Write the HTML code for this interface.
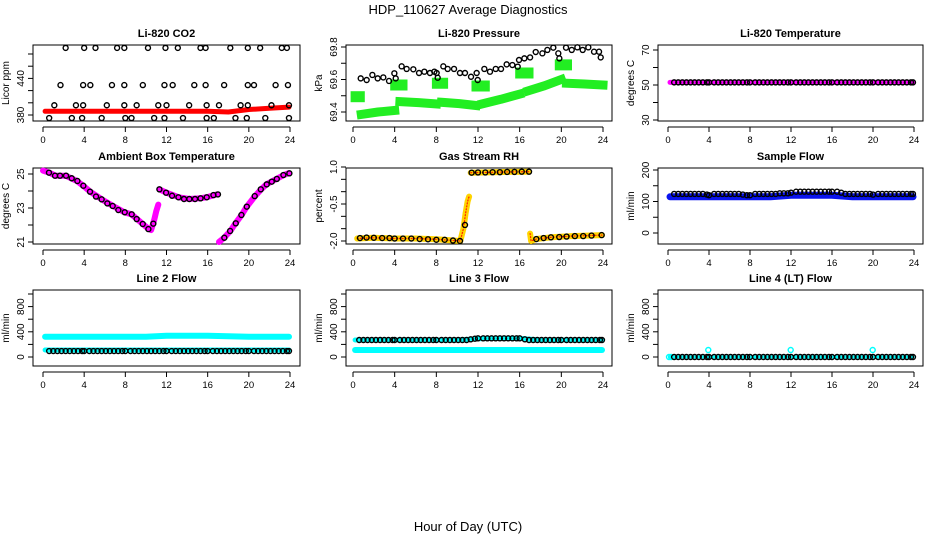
<!DOCTYPE html>
<html><head><meta charset="utf-8"><style>
body{margin:0;background:#fff}
svg{display:block;font-family:"Liberation Sans",sans-serif}
</style></head><body>
<svg id="c" width="936" height="540" viewBox="0 0 936 540">
<rect width="936" height="540" fill="#fff"/>
<text x="468" y="14" text-anchor="middle" font-size="13">HDP_110627  Average Diagnostics</text>
<text x="468" y="531" text-anchor="middle" font-size="13">Hour of Day (UTC)</text>
</svg>
<script>
// ---------- shared hours ----------
const gridHours=[0.6,1.0,1.4,1.8,2.2,2.6,3.0,3.4,3.8,4.0,4.5,4.9,5.3,5.7,6.1,6.5,6.9,7.3,7.7,8.0,8.5,8.9,9.3,9.7,10.1,10.5,10.9,11.3,11.7,12.0,12.5,12.9,13.3,13.7,14.1,14.5,14.9,15.3,15.7,16.0,16.5,16.9,17.3,17.7,18.1,18.5,18.9,19.3,19.7,20.0,20.5,20.9,21.3,21.7,22.1,22.5,22.9,23.3,23.7,23.9];
const bandHours=[0.2,2,4,6,8,10,12,14,16,18,20,22,23.9];
const xTicks=[0,4,8,12,16,20,24];
// ---------- CO2 ----------
const co2TopH=[2.2,4.0,5.1,7.2,7.9,10.2,11.9,13.1,15.3,15.8,18.2,19.9,21.1,23.2,23.7];
const co2TopV=[490,490,490,490,490,490,490,490,490,490,490,490,490,490,490];
const co2MidH=[1.7,3.9,4.6,6.7,7.9,9.7,11.8,12.6,14.7,15.8,17.6,19.9,20.5,22.6,23.8];
const co2MidV=[429,429,429,429,429,429,429,429,429,429,429,429,429,429,429];
const co2LowH=[1.1,3.2,3.9,6.2,7.9,9.1,11.2,12.0,14.2,15.9,17.1,19.2,19.9,22.2,23.9];
const co2LowV=[396,396,396,396,396,396,396,396,396,396,396,396,396,396,396];
const co2BotH=[0.6,2.8,3.8,5.7,8.0,8.6,10.8,11.8,13.6,15.9,16.6,18.7,19.8,21.6,23.9];
const co2BotV=[375,375,375,375,375,375,375,375,375,375,375,375,375,375,375];
const co2BandV=[386,386,386,386,386,386,386,386,386,385,389,391,393];
// ---------- Pressure ----------
const presH=[0.74,1.31,1.86,2.37,2.91,3.46,3.97,4.10,4.67,5.15,5.79,6.34,6.85,7.39,7.81,8.03,8.13,8.67,9.09,9.70,10.27,10.75,11.33,11.87,11.97,12.61,13.15,13.70,14.21,14.75,15.30,15.81,15.94,16.45,17.0,17.54,18.18,18.66,19.23,19.71,19.81,20.45,21.0,21.54,22.05,22.59,23.14,23.62,23.78];
const presV=[69.607,69.597,69.628,69.607,69.613,69.591,69.638,69.607,69.681,69.665,69.663,69.640,69.648,69.640,69.648,69.640,69.611,69.681,69.665,69.665,69.640,69.640,69.617,69.640,69.597,69.665,69.648,69.665,69.665,69.693,69.689,69.679,69.720,69.730,69.736,69.769,69.761,69.782,69.796,69.761,69.730,69.796,69.782,69.798,69.782,69.798,69.771,69.771,69.736];
const presGreenH=[[0.3,0.6],[0.8,2.4,4.0],[4.1,4.7],[4.5,6.3,8.0],[8.1,8.6],[8.5,10.2,11.8],[11.9,12.6],[12.4,14.2,16.0],[16.1,16.8],[16.8,18.4,20.0],[19.9,20.5],[20.5,22.2,24.0]];
const presGreenV=[[69.494,69.494],[69.385,69.400,69.410],[69.566,69.566],[69.464,69.458,69.450],[69.577,69.577],[69.460,69.452,69.440],[69.560,69.560],[69.450,69.478,69.510],[69.640,69.640],[69.530,69.562,69.600],[69.690,69.690],[69.577,69.572,69.566]];
// ---------- Li-820 temperature ----------
const tempV=gridHours.map(()=>51.5);
const tempBandV=[51.5,51.5,51.5,51.5,51.5,51.5,51.5,51.5,51.5,51.5,51.5,51.5,51.5];
// ---------- Ambient ----------
const ambH=[0.58,1.17,1.65,2.24,2.79,3.34,3.92,4.57,5.15,5.70,6.25,6.77,7.32,7.94,8.62,9.10,9.69,10.24,10.72,11.31,11.96,12.54,13.16,13.70,14.22,14.77,15.31,15.91,16.56,17.0,17.62,18.18,18.73,19.28,19.80,20.57,21.16,21.74,22.23,22.72,23.36,23.94];
const ambV=[25.08,24.9,24.9,24.9,24.75,24.59,24.31,23.96,23.67,23.51,23.27,23.12,22.88,22.75,22.63,22.35,22.06,21.76,22.08,24.1,23.9,23.72,23.63,23.53,23.53,23.53,23.57,23.63,23.76,23.8,21.25,21.65,22.1,22.59,23.08,23.7,24.1,24.39,24.55,24.71,24.94,25.04];
const ambBandH=[[0.0,0.6,1.2,2.2,3.3,3.9,4.6,5.7,6.8,7.9,8.6,9.7,10.2,10.5,10.8,11.0,11.2],[11.3,12.0,13.2,14.2,15.3,16.0,16.9],[17.1,17.6,18.2,18.7,19.3,19.8,20.6,21.2,21.7,22.2,22.7,23.4,23.9]];
const ambBandV=[[25.2,25.08,24.9,24.9,24.59,24.31,23.96,23.51,23.12,22.75,22.63,22.06,21.8,21.7,22.3,22.8,23.2],[24.1,23.9,23.63,23.53,23.57,23.65,23.8],[21.0,21.25,21.65,22.1,22.59,23.08,23.7,24.1,24.39,24.55,24.71,24.94,25.05]];
// ---------- Gas stream RH ----------
const rhH=[[0.67,1.3,2.0,2.8,3.5,4.0,4.8,5.6,6.4,7.2,8.0,8.8,9.6,10.27],[10.75],[11.39,12.0,12.7,13.4,14.1,14.8,15.5,16.2,16.9],[17.6,18.3,19.0,19.8,20.5,21.3,22.1,22.9,23.87]];
const rhV=[[-1.88,-1.86,-1.87,-1.88,-1.88,-1.9,-1.9,-1.9,-1.92,-1.93,-1.95,-1.95,-1.98,-2.0],[-1.35],[0.77,0.78,0.78,0.79,0.79,0.8,0.8,0.81,0.81],[-1.92,-1.88,-1.85,-1.84,-1.82,-1.8,-1.8,-1.78,-1.76]];
const rhBandH=[[0.4,2.0,4.0,6.0,8.0,10.3,10.6,10.8,11.0,11.15],[11.3,13.0,15.0,16.9],[17.0,17.1,17.6,19.0,21.0,23.9]];
const rhBandV=[[-1.9,-1.87,-1.9,-1.9,-1.93,-2.0,-1.5,-0.9,-0.4,-0.2],[0.77,0.78,0.8,0.81],[-1.7,-2.0,-1.92,-1.85,-1.8,-1.76]];
// ---------- Sample flow ----------
const sampleV=[124,124,124,124,124,124,124,124,122,120,124,124,124,124,124,124,124,122,120,120,124,124,124,124,124,124,126,126,126,128,131,131,131,131,131,131,131,131,131,131,131,128,124,124,124,124,124,124,124,122,124,124,124,124,124,124,124,124,124,124];
const sampleBandV=[115,115,115,115,115,115,120,120,120,115,115,115,115];
// ---------- Line flows ----------
const line2V=gridHours.map(()=>95);
const line2BandUpV=[322,322,322,322,322,322,338,338,338,330,322,322,322];
const line2BandLowV=[111,111,111,111,111,111,111,111,111,111,111,111,111];
const line3V=[270,270,270,270,270,270,270,270,270,270,270,270,270,270,270,270,270,270,270,270,270,270,270,270,270,270,270,280,290,296,296,296,296,296,296,296,296,296,296,296,280,270,270,270,270,270,270,270,270,270,270,270,270,270,270,270,270,270,270,270];
const line3BandUpV=[270,270,270,270,270,270,290,296,296,270,270,270,270];
const line3BandLowV=[111,111,111,111,111,111,111,111,111,111,111,111,111];
const line4V=gridHours.map(()=>0);
const line4CyanH=[0.1,0.3,3.93,11.97,19.97];
const line4CyanV=[0,0,111,111,111];

// ---------- drawing ----------
const svg=document.getElementById('c');
const NS='http://www.w3.org/2000/svg';
function mk(tag,attrs,parent){const e=document.createElementNS(NS,tag);for(const k in attrs)e.setAttribute(k,attrs[k]);(parent||svg).appendChild(e);return e;}
const cols=[{l:33,r:300,x0:43,x24:290},{l:346,r:612,x0:353,x24:603},{l:658,r:923,x0:668,x24:914}];
const rows=[{t:45,b:121},{t:168,b:244},{t:290,b:366}];
function panel(ci,ri,title,ylab,v1,p1,v2,p2,yticks,ylabels,name){
  const c=cols[ci],r=rows[ri];
  const g=mk('g',{});
  
  
  const X=h=>c.x0+h*(c.x24-c.x0)/24;
  const Y=v=>p1+(v-v1)*(p2-p1)/(v2-v1);
  const box=mk('rect',{x:c.l,y:r.t,width:c.r-c.l,height:r.b-r.t,fill:'none',stroke:'#000','stroke-width':1},g);
  
  
  const tt=mk('text',{x:(c.l+c.r)/2,y:r.t-8,'text-anchor':'middle','font-size':11,'font-weight':'bold'},g);
  tt.textContent=title;
  
  
  const yl=mk('text',{transform:`translate(${c.l-24},${(r.t+r.b)/2}) rotate(-90)`,'text-anchor':'middle','font-size':10},g);
  yl.textContent=ylab;
  
  
  yticks.forEach(v=>{mk('line',{x1:c.l-5,x2:c.l,y1:Y(v),y2:Y(v),stroke:'#000'},g);});
  ylabels.forEach(lb=>{const t=mk('text',{transform:`translate(${c.l-9},${Y(parseFloat(lb))}) rotate(-90)`,'text-anchor':'middle','font-size':10},g);t.textContent=lb;
    
    });
  const ya=r.b+6;
  mk('line',{x1:X(0),x2:X(24),y1:ya,y2:ya,stroke:'#000'},g);
  xTicks.forEach(h=>{mk('line',{x1:X(h),x2:X(h),y1:ya,y2:ya+5,stroke:'#000'},g);
    const t=mk('text',{x:X(h),y:ya+16,'text-anchor':'middle','font-size':9.5},g);t.textContent=h;
    
    });
  return {g,X,Y};
}
function band(P,hs,vs,color,w,name,cap){
  const pts=hs.map((h,i)=>P.X(h).toFixed(1)+','+P.Y(vs[i]).toFixed(1)).join(' ');
  const e=mk('polyline',{points:pts,fill:'none',stroke:color,'stroke-width':w,'stroke-linejoin':'round','stroke-linecap':cap||'round'},P.g);
  
  
  return e;
}
function circles(P,hs,vs,color,name){
  hs.forEach((h,i)=>{const e=mk('circle',{cx:P.X(h),cy:P.Y(vs[i]),r:2.5,fill:'none',stroke:color,'stroke-width':1.4},P.g);
    
    });
}
let P=panel(0,0,'Li-820 CO2','Licor ppm',380,115,480,54,[380,400,420,440,460,480],['380','440'],'co2');
band(P,bandHours,co2BandV,'#ff0000',5,'co2-band');
circles(P,co2TopH,co2TopV,'#000','co2-point');circles(P,co2MidH,co2MidV,'#000','co2-point');
circles(P,co2LowH,co2LowV,'#000','co2-point');circles(P,co2BotH,co2BotV,'#000','co2-point');
P=panel(1,0,'Li-820 Pressure','kPa',69.4,112,69.8,47,[69.4,69.5,69.6,69.7,69.8],['69.4','69.6','69.8'],'pressure');
presGreenH.forEach((hs,i)=>band(P,hs,presGreenV[i],'#22ee22',hs.length==2?11:9,'pressure-green-band','square'));
circles(P,presH,presV,'#000','pressure-point');
P=panel(2,0,'Li-820 Temperature','degrees C',30,120,70,50,[30,40,50,60,70],['30','50','70'],'li820-temp');
band(P,bandHours,tempBandV,'#ff00ff',5,'temp-band');
circles(P,gridHours,tempV,'#000','temp-point');
P=panel(0,1,'Ambient Box Temperature','degrees C',21,242,25,174,[21,22,23,24,25],['21','23','25'],'ambient');
ambBandH.forEach((hs,i)=>band(P,hs,ambBandV[i],'#ff00ff',6,'ambient-band'));
circles(P,ambH,ambV,'#000','ambient-point');
P=panel(1,1,'Gas Stream RH','percent',-2,241,1,167,[-2,-1.5,-1,-0.5,0,0.5,1],['-2.0','-0.5','1.0'],'rh');
rhBandH.forEach((hs,i)=>{band(P,hs,rhBandV[i],'#ffd400',6,'rh-band');band(P,hs,rhBandV[i],'#ff2000',1.2,'rh-band-dots').setAttribute('stroke-dasharray','1 2');});
rhH.forEach((hs,i)=>circles(P,hs,rhV[i],'#000','rh-point'));
P=panel(2,1,'Sample Flow','ml/min',0,233,200,170,[0,50,100,150,200],['0','100','200'],'sample-flow');
band(P,bandHours,sampleBandV,'#0a14ee',7,'sample-band');
circles(P,gridHours,sampleV,'#000','sample-point');
P=panel(0,2,'Line 2 Flow','ml/min',0,357,1000,294,[0,200,400,600,800,1000],['0','400','800'],'line2');
band(P,bandHours,line2BandUpV,'#00ffff',6,'line2-upper-band');
band(P,bandHours,line2BandLowV,'#00ffff',5,'line2-lower-band');
circles(P,gridHours,line2V,'#000','line2-point');
P=panel(1,2,'Line 3 Flow','ml/min',0,357,1000,294,[0,200,400,600,800,1000],['0','400','800'],'line3');
band(P,bandHours,line3BandUpV,'#00ffff',5,'line3-upper-band');
band(P,bandHours,line3BandLowV,'#00ffff',6,'line3-lower-band');
circles(P,gridHours,line3V,'#000','line3-point');
P=panel(2,2,'Line 4 (LT) Flow','ml/min',0,357,1000,294,[0,200,400,600,800,1000],['0','400','800'],'line4');
band(P,bandHours,line4V.slice(0,13),'#00ffff',3,'line4-band');
circles(P,line4CyanH,line4CyanV,'#00ffff','line4-cyan-point');
circles(P,gridHours,line4V,'#000','line4-point');
</script>
</body></html>
